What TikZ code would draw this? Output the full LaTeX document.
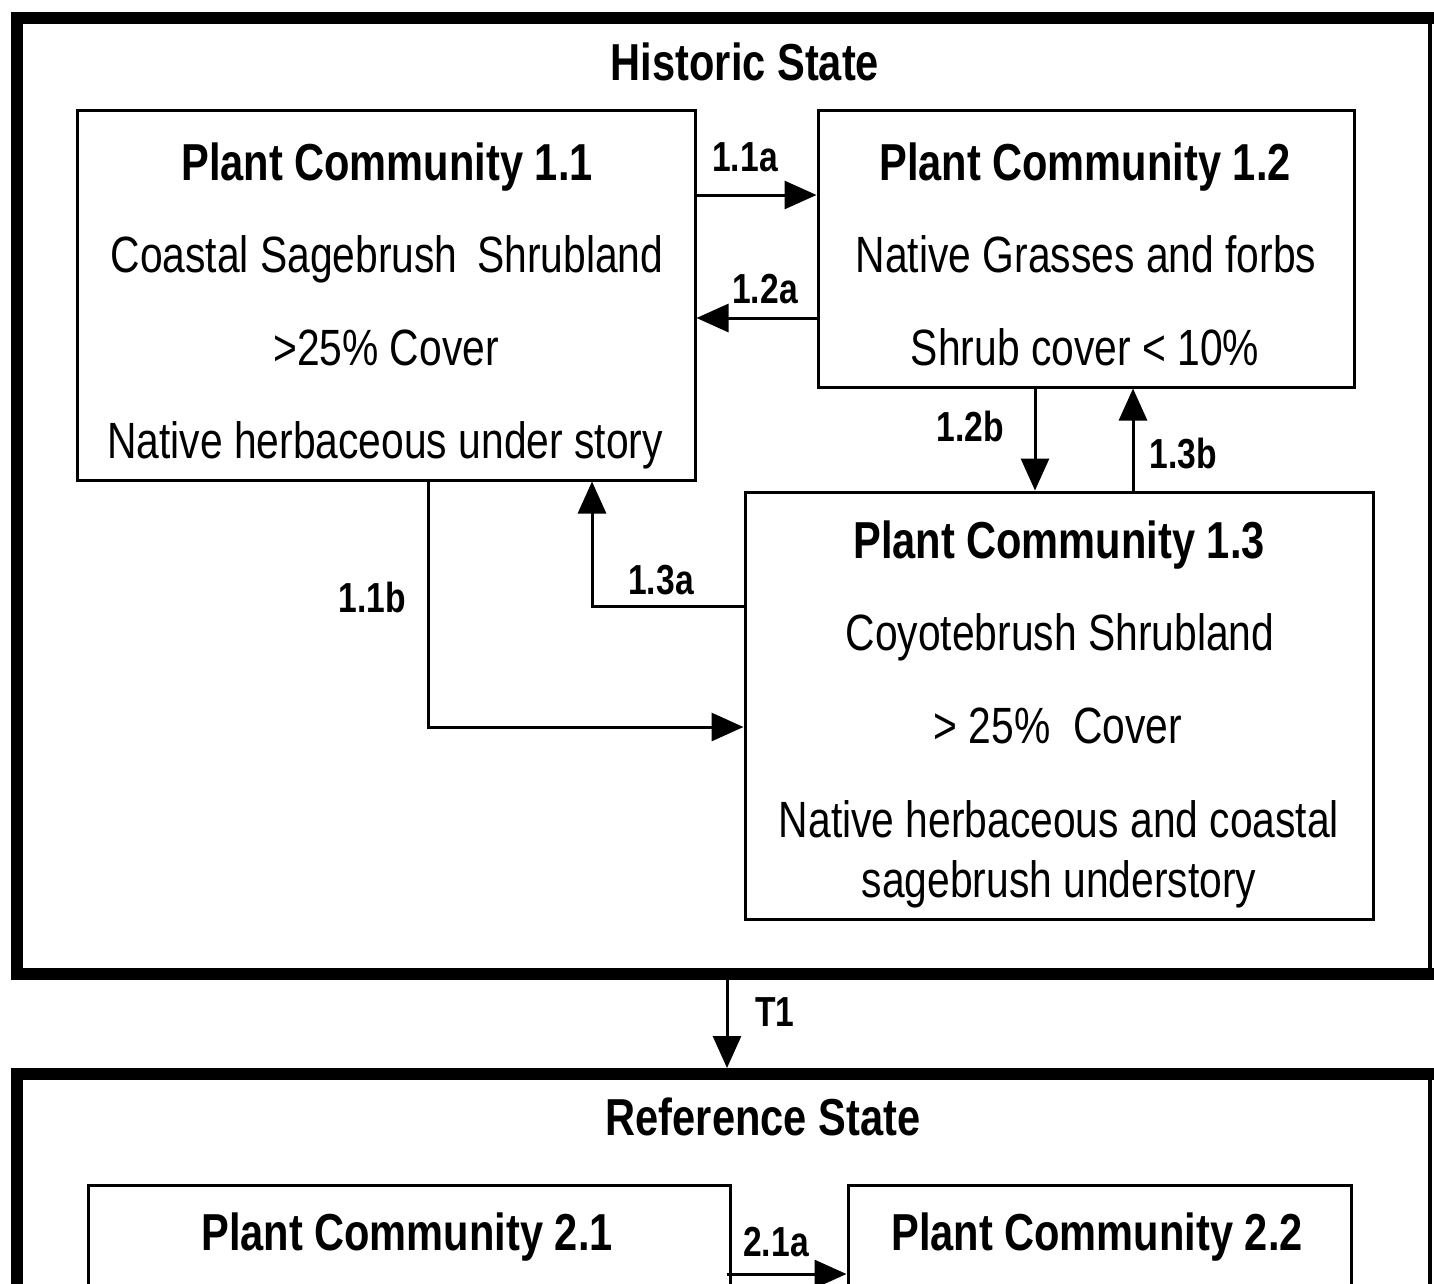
\documentclass[tikz,border=0pt]{standalone}
\usepackage{fontspec}
\setmainfont{Liberation Sans}[FakeStretch=0.8]
\usetikzlibrary{arrows.meta}
\tikzset{
  pcbox/.style={draw, line width=3pt, inner sep=0pt},
  conn/.style={line width=3pt, -{Triangle[length=32pt,width=28pt]}},
  statebar/.style={line width=12pt, line join=miter},
  head/.style={anchor=base, inner sep=0pt, font=\fontsize{52}{62}\selectfont\bfseries},
  body/.style={anchor=base, inner sep=0pt, font=\fontsize{51}{61}\selectfont},
  lbl/.style={anchor=base, inner sep=0pt, font=\fontsize{42}{50}\selectfont\bfseries},
}
\begin{document}
\begin{tikzpicture}[x=1pt,y=-1pt]
\useasboundingbox (0,0) rectangle (1434,1283);
\clip (0,0) rectangle (1434,1283);
\fill[white] (0,0) rectangle (1434,1283);

% Historic state frame
\draw[statebar] (1440,18) -- (17,18) -- (17,974) -- (1440,974);
\draw[line width=3.5pt] (1430,18) -- (1430,974);
\coordinate (hsb) at (727,980);
\node[head] (hst) at (745,80) {Historic State};

% Reference state frame
\draw[statebar] (1440,1074) -- (17,1074) -- (17,1300);
\draw[line width=3.5pt] (1430,1074) -- (1430,1300);
\coordinate (rst) at (727,1068);
\node[head] (rsl) at (763,1135) {Reference State};

% Boxes
\node[pcbox, minimum width=618pt, minimum height=370pt] (b11) at (386,295) {};
\node[pcbox, minimum width=536pt, minimum height=277pt] (b12) at (1086,248.5) {};
\node[pcbox, minimum width=628pt, minimum height=427pt] (b13) at (1059,705.5) {};
\node[pcbox, minimum width=642pt, minimum height=230pt] (b21) at (409,1300) {};
\node[pcbox, minimum width=503pt, minimum height=230pt] (b22) at (1099.5,1300) {};

% Box texts
\node[head] (t11a) at (387,180) {Plant Community 1.1};
\node[body] (t11b) at (387,272) {Coastal Sagebrush\, Shrubland};
\node[body] (t11c) at (386,365) {>25\% Cover};
\node[body] (t11d) at (385,458) {Native herbaceous under story};

\node[head] (t12a) at (1085,180) {Plant Community 1.2};
\node[body] (t12b) at (1086,272) {Native Grasses and forbs};
\node[body] (t12c) at (1085,365) {Shrub cover < 10\%};

\node[head] (t13a) at (1059,558) {Plant Community 1.3};
\node[body] (t13b) at (1060,650) {Coyotebrush Shrubland};
\node[body] (t13c) at (1058,743) {> 25\%\ \ Cover};
\node[body] (t13d) at (1059,837) {Native herbaceous and coastal};
\node[body] (t13e) at (1059,897) {sagebrush understory};

\node[head] (t21a) at (407,1250) {Plant Community 2.1};
\node[head] (t22a) at (1097,1250) {Plant Community 2.2};

% Connectors
\draw[conn] (b11.east |- 0,195) -- (b12.west |- 0,195);
\node[lbl] (l11a) at (745,171) {1.1a};
\draw[conn] (b12.west |- 0,318) -- (b11.east |- 0,318);
\node[lbl] (l12a) at (765,303) {1.2a};
\draw[conn] (b12.south -| 1035,0) -- (b13.north -| 1035,0);
\node[lbl] (l12b) at (970,441) {1.2b};
\draw[conn] (b13.north -| 1133,0) -- (b12.south -| 1133,0);
\node[lbl] (l13b) at (1183,468) {1.3b};
\draw[conn] (b13.west |- 0,606) -| (b11.south -| 592,0);
\node[lbl] (l13a) at (661,594) {1.3a};
\draw[conn] (b11.south -| 428,0) |- (b13.west |- 0,727);
\node[lbl] (l11b) at (372,612) {1.1b};
\draw[conn] (hsb) -- (rst);
\node[lbl] (lt1) at (775,1026) {T1};
\draw[conn] (b21.east |- 0,1274) ++(-5,0) -- (b22.west |- 0,1274);
\node[lbl] (l21a) at (776,1256) {2.1a};
\end{tikzpicture}
\end{document}
